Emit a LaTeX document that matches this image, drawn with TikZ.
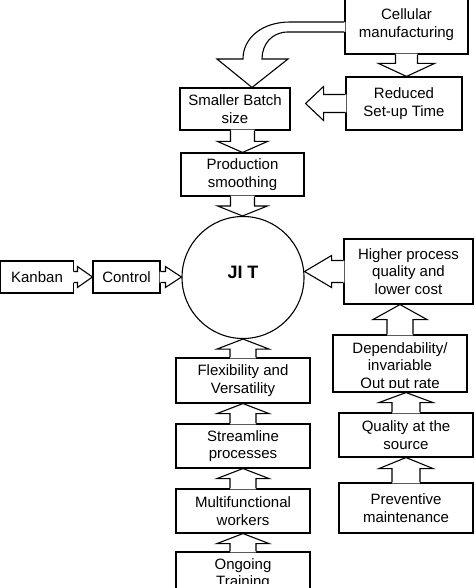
\documentclass[tikz,border=0pt]{standalone}
\usepackage{fontspec}
\setmainfont{Liberation Sans}
\usetikzlibrary{calc}
\newcommand\fatarrow[5]{%
  \coordinate (fS) at #1; \coordinate (fT) at #2;
  \coordinate (fB) at ($(fT)!#5!(fS)$);
  \coordinate (fE) at ($(fS)!-0.9pt!(fT)$);
  \fill[white] ($(fE)!#3!90:(fT)$) -- ($(fB)!#3!90:(fT)$) -- ($(fB)!#4!90:(fT)$) -- (fT) -- ($(fB)!#4!-90:(fT)$) -- ($(fB)!#3!-90:(fT)$) -- ($(fE)!#3!-90:(fT)$) -- cycle;
  \draw[arrowline] ($(fS)!#3!90:(fT)$) -- ($(fB)!#3!90:(fT)$) -- ($(fB)!#4!90:(fT)$) -- (fT) -- ($(fB)!#4!-90:(fT)$) -- ($(fB)!#3!-90:(fT)$) -- ($(fS)!#3!-90:(fT)$);
}
\begin{document}
\begin{tikzpicture}[x=1pt,y=-1pt,line width=1.1pt,
  box/.style={draw, fill=white, align=center, inner sep=0pt, font=\fontsize{15}{17.5}\selectfont},
  txt/.style={align=center, inner sep=0pt, font=\fontsize{15}{17.5}\selectfont},
  arrowline/.style={line join=miter}]
\useasboundingbox (0,0) rectangle (474,588);
% boxes
\node[box, minimum width=123pt, minimum height=59pt] (cell) at (406.5,24.5) {Cellular\\manufacturing};
\node[box, minimum width=116pt, minimum height=53pt] (red) at (404,103.5) {Reduced\\Set-up Time};
\node[box, minimum width=110pt, minimum height=42pt] (sb) at (235,109) {Smaller Batch\\size};
\node[box, minimum width=123pt, minimum height=43pt] (ps) at (242.5,174.5) {Production\\smoothing};
\node[draw, circle, minimum size=122pt, inner sep=0pt] (jit) at (243,277.5) {};
\node[inner sep=0pt, font=\fontsize{18}{20}\selectfont\bfseries] (jitlabel) at (243,272) {JI T};
\node[box, minimum width=72.5pt, minimum height=32pt] (kan) at (37,277) {Kanban};
\node[box, minimum width=67pt, minimum height=32pt] (con) at (126.5,277) {Control};
\node[box, minimum width=129pt, minimum height=65pt] (hig) at (408.5,271.5) {Higher process\\quality and\\lower cost};
\node[box, minimum width=134pt, minimum height=57pt] (dep) at (400,363.5) {};
\begin{scope}
\clip (333,336) rectangle (467,387);
\node[txt] (deptext) at (400,367) {Dependability/\\invariable\\Out put rate};
\end{scope}
\node[box, minimum width=134pt, minimum height=44pt] (qual) at (406,435) {Quality at the\\source};
\node[box, minimum width=134pt, minimum height=50pt] (prev) at (406,508) {Preventive\\maintenance};
\node[box, minimum width=134pt, minimum height=45pt] (flex) at (243,380.5) {Flexibility and\\Versatility};
\node[box, minimum width=134pt, minimum height=44pt] (str) at (243,446) {Streamline\\processes};
\node[box, minimum width=134pt, minimum height=44pt] (mul) at (243,511) {Multifunctional\\workers};
\node[box, minimum width=134pt, minimum height=48pt] (ong) at (243,576) {};
\begin{scope}
\clip (150,545) rectangle (330,583);
\node[txt] (ongtext) at (243,574) {Ongoing\\Training};
\end{scope}
% curved arrow
\coordinate (ca) at (0,22);
\coordinate (cb) at (0,32);
\coordinate (ctip) at ([xshift=17pt]sb.north);
\fill[white] ([xshift=1pt]cell.west |- ca) -- (290,22) .. controls (262,22) and (243,38) .. (243,59) -- (217,59) -- (ctip) -- (288,59) -- (262,59) .. controls (262,44) and (272,32) .. (288,32) -- ([xshift=1pt]cell.west |- cb) -- cycle;
\draw[arrowline] (cell.west |- ca) -- (290,22) .. controls (262,22) and (243,38) .. (243,59) -- (217,59) -- (ctip) -- (288,59) -- (262,59) .. controls (262,44) and (272,32) .. (288,32) -- (cell.west |- cb);
% straight fat arrows
\fatarrow{(cell.south)}{(cell.south |- red.north)}{11pt}{28pt}{13pt}
\coordinate (rtip) at ([xshift=15pt]sb.east |- red.west);
\fatarrow{(red.west)}{(rtip)}{9pt}{17pt}{18pt}
\fatarrow{(sb.south -| ps.north)}{(ps.north)}{12pt}{25pt}{11pt}
\fatarrow{(ps.south)}{(ps.south |- jit.north)}{12pt}{25pt}{10pt}
\fatarrow{(kan.east)}{(con.west)}{5.5pt}{10.5pt}{15pt}
\fatarrow{(con.east)}{(jit.west |- con.east)}{5.5pt}{10.5pt}{16pt}
\fatarrow{(hig.west)}{(jit.east |- hig.west)}{11pt}{16pt}{27pt}
\fatarrow{(dep.north)}{(dep.north |- hig.south)}{13pt}{27pt}{15pt}
\fatarrow{(qual.north)}{(qual.north |- dep.south)}{14pt}{27pt}{10pt}
\fatarrow{(prev.north)}{(prev.north |- qual.south)}{14pt}{27pt}{11pt}
\fatarrow{(flex.north)}{(flex.north |- jit.south)}{13pt}{26pt}{10pt}
\fatarrow{(str.north)}{(str.north |- flex.south)}{13pt}{26pt}{10pt}
\fatarrow{(mul.north)}{(mul.north |- str.south)}{13pt}{26pt}{10pt}
\fatarrow{(ong.north)}{(ong.north |- mul.south)}{13pt}{26pt}{10pt}
\end{tikzpicture}
\end{document}
